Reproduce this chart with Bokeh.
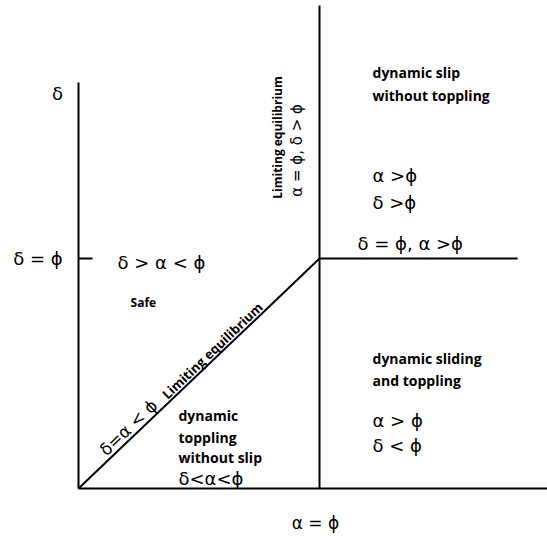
import math
from bokeh.plotting import figure
from bokeh.models import Range1d
from bokeh.core.properties import value
from bokeh.embed import file_html
from bokeh.resources import INLINE

# ---- diagram values (x = alpha / phi, y = delta / phi) ----
alpha_phi = 1.0          # alpha = phi boundary
delta_phi = 1.0          # delta = phi boundary
delta_axis_top = 1.765
alpha_axis_end = 1.95
alpha_phi_line_top = 2.1
delta_phi_line_end = 1.822
tick_len = 0.058

# boundary segments
seg_x0 = [0.0, 0.0, alpha_phi, alpha_phi, 0.0, 0.0]
seg_y0 = [0.0, 0.0, 0.0, delta_phi, 0.0, delta_phi]
seg_x1 = [0.0, alpha_axis_end, alpha_phi, delta_phi_line_end, alpha_phi, tick_len]
seg_y1 = [delta_axis_top, 0.0, alpha_phi_line_top, delta_phi, delta_phi, delta_phi]

# region labels (bold word labels)
word_text = ["Safe", "dynamic", "toppling", "without slip",
             "dynamic  slip", "without  toppling",
             "dynamic sliding", "and  toppling"]
word_x = [0.216, 0.415, 0.415, 0.415, 1.22, 1.22, 1.22, 1.22]
word_y = [0.809, 0.317, 0.222, 0.135, 1.809, 1.709, 0.565, 0.47]

# symbolic labels
sym_text = ["\u03b4 > \u03b1  < \u03d5", "\u03b4<\u03b1<\u03d5",
            "\u03b1 >\u03d5", "\u03b4 >\u03d5", "\u03b4 = \u03d5, \u03b1 >\u03d5",
            "\u03b1  >  \u03d5", "\u03b4  <  \u03d5"]
sym_x = [0.162, 0.415, 1.22, 1.22, 1.158, 1.22, 1.22]
sym_y = [0.983, 0.043, 1.361, 1.243, 1.065, 0.296, 0.187]

W, H = 547, 546
ox, oy = 78, 488      # origin location inside the figure (px)
sx, sy = 241, 230     # px per unit

p = figure(width=W, height=H, output_backend="svg", toolbar_location=None,
           x_range=Range1d(-ox / sx, (W - ox) / sx),
           y_range=Range1d(-(H - oy) / sy, oy / sy),
           min_border=0)
p.axis.visible = False
p.grid.visible = False
p.outline_line_color = None

p.segment(x0=seg_x0, y0=seg_y0, x1=seg_x1, y1=seg_y1,
          line_color="black", line_width=2)

GREEK = value("DejaVu Sans")
WORD = value("Open Sans")

# axis labels
p.text(x=[-0.087], y=[1.717], text=["\u03b4"], text_font=GREEK,
       text_font_size="18px", text_align="center", text_baseline="middle")
p.text(x=[-0.066], y=[delta_phi], text=["\u03b4 = \u03d5"], text_font=GREEK,
       text_font_size="18px", text_align="right", text_baseline="middle")
p.text(x=[0.983], y=[-0.152], text=["\u03b1 = \u03d5"], text_font=GREEK,
       text_font_size="17px", text_align="center", text_baseline="middle")

# word labels
p.text(x=word_x[:1], y=word_y[:1], text=word_text[:1], text_font=WORD,
       text_font_style="bold", text_font_size="12px",
       text_align="left", text_baseline="middle")
p.text(x=word_x[1:], y=word_y[1:], text=word_text[1:], text_font=WORD,
       text_font_style="bold", text_font_size="14px",
       text_align="left", text_baseline="middle")

# symbolic labels
p.text(x=sym_x, y=sym_y, text=sym_text, text_font=GREEK,
       text_font_size="18px", text_align="left", text_baseline="middle")

# diagonal labels along delta = alpha
ang = math.atan2(sy * 1.0, sx * 1.0)
p.text(x=[0.207], y=[0.265], text=["\u03b4=\u03b1 < \u03d5"], angle=ang,
       text_font=GREEK, text_font_size="17px", text_align="center",
       text_baseline="middle")
p.text(x=[0.555], y=[0.6], text=["Limiting equilibrium"], angle=ang,
       text_font=WORD, text_font_style="bold", text_font_size="13px",
       text_align="center", text_baseline="middle")

# vertical labels along alpha = phi
p.text(x=[0.826], y=[1.526], text=["Limiting equilibrium"], angle=math.pi / 2,
       text_font=WORD, text_font_style="bold", text_font_size="12px",
       text_align="center", text_baseline="middle")
p.text(x=[0.905], y=[1.47], text=["\u03b1 = \u03d5, \u03b4 > \u03d5"], angle=math.pi / 2,
       text_font=GREEK, text_font_size="15px", text_align="center",
       text_baseline="middle")

open("out.html", "w").write(file_html(p, INLINE))
